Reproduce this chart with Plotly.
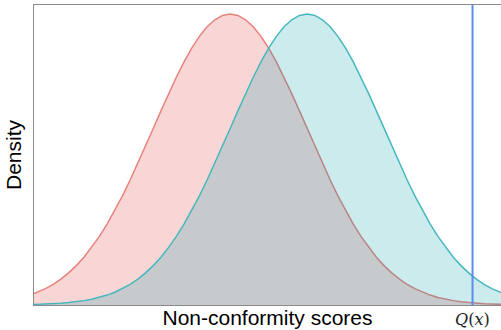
import plotly.graph_objects as go

# Score grid (x) and density values
scores = [-0.1, 0.0, 0.1, 0.2, 0.3, 0.4, 0.5, 0.6, 0.7, 0.8, 0.9,
          1.0, 1.1, 1.2, 1.3, 1.4, 1.5, 1.6, 1.7, 1.8, 1.9,
          2.0, 2.1, 2.2, 2.3, 2.4, 2.5, 2.6, 2.7, 2.8, 2.9,
          3.0, 3.1, 3.2, 3.3, 3.4, 3.5, 3.6, 3.7, 3.8, 3.9,
          4.0, 4.1, 4.2, 4.3, 4.4, 4.5, 4.6, 4.7, 4.8, 4.9,
          5.0, 5.1, 5.2, 5.3, 5.4, 5.5, 5.6, 5.7, 5.8, 5.9,
          6.0, 6.1, 6.2]

density_red = [0.0136, 0.0175, 0.0224, 0.0283, 0.0355, 0.0440, 0.0540, 0.0656, 0.0790, 0.0940, 0.1109,
               0.1295, 0.1497, 0.1714, 0.1942, 0.2179, 0.2420, 0.2661, 0.2897, 0.3123, 0.3332,
               0.3521, 0.3683, 0.3814, 0.3910, 0.3970, 0.3989, 0.3970, 0.3910, 0.3814, 0.3683,
               0.3521, 0.3332, 0.3123, 0.2897, 0.2661, 0.2420, 0.2179, 0.1942, 0.1714, 0.1497,
               0.1295, 0.1109, 0.0940, 0.0790, 0.0656, 0.0540, 0.0440, 0.0355, 0.0283, 0.0224,
               0.0175, 0.0136, 0.0104, 0.0079, 0.0060, 0.0044, 0.0033, 0.0024, 0.0017, 0.0012,
               0.0009, 0.0006, 0.0004]

density_teal = [0.0006, 0.0009, 0.0012, 0.0017, 0.0024, 0.0033, 0.0044, 0.0060, 0.0079, 0.0104, 0.0136,
                0.0175, 0.0224, 0.0283, 0.0355, 0.0440, 0.0540, 0.0656, 0.0790, 0.0940, 0.1109,
                0.1295, 0.1497, 0.1714, 0.1942, 0.2179, 0.2420, 0.2661, 0.2897, 0.3123, 0.3332,
                0.3521, 0.3683, 0.3814, 0.3910, 0.3970, 0.3989, 0.3970, 0.3910, 0.3814, 0.3683,
                0.3521, 0.3332, 0.3123, 0.2897, 0.2661, 0.2420, 0.2179, 0.1942, 0.1714, 0.1497,
                0.1295, 0.1109, 0.0940, 0.0790, 0.0656, 0.0540, 0.0440, 0.0355, 0.0283, 0.0224,
                0.0175, 0.0136, 0.0104]

q_value = 5.65
q_label = "<i>Q</i>(<i>x</i>)"
x_title = "Non-conformity scores"
y_title = "Density"

fig = go.Figure()
fig.add_trace(go.Scatter(
    x=scores, y=density_red, mode="lines", fill="tozeroy",
    line=dict(color="#E8807C", width=1.5),
    fillcolor="rgba(235,120,120,0.3)", showlegend=False, hoverinfo="skip"))
fig.add_trace(go.Scatter(
    x=scores, y=density_teal, mode="lines", fill="tozeroy",
    line=dict(color="#45B8BE", width=1.5),
    fillcolor="rgba(0,155,165,0.2)", showlegend=False, hoverinfo="skip"))

fig.add_shape(type="line", xref="x", yref="paper", x0=q_value, x1=q_value, y0=0, y1=1,
              line=dict(color="#5B8CEE", width=2))

fig.add_annotation(x=q_value, xref="x", y=0, yref="paper", yanchor="top", yshift=-3,
                   text=q_label, showarrow=False,
                   font=dict(family="DejaVu Serif", size=16, color="#222222"))

fig.update_layout(
    width=501, height=330,
    margin=dict(l=34, r=0, t=5, b=25),
    paper_bgcolor="white", plot_bgcolor="white",
    font=dict(family="Liberation Sans, Arial, sans-serif", color="black"),
    xaxis=dict(range=[-0.05, 6.02], showgrid=False, zeroline=False, showticklabels=False,
               ticks="", showline=True, mirror=True, linecolor="#8a8a8a", linewidth=1.2,
               title=dict(text=x_title, font=dict(size=21), standoff=5)),
    yaxis=dict(range=[0, 0.4113], showgrid=False, zeroline=False, showticklabels=False,
               ticks="", showline=True, mirror=False, linecolor="#8a8a8a", linewidth=1.2,
               title=dict(text=y_title, font=dict(size=21), standoff=5)),
)

fig.write_html("out.html")
